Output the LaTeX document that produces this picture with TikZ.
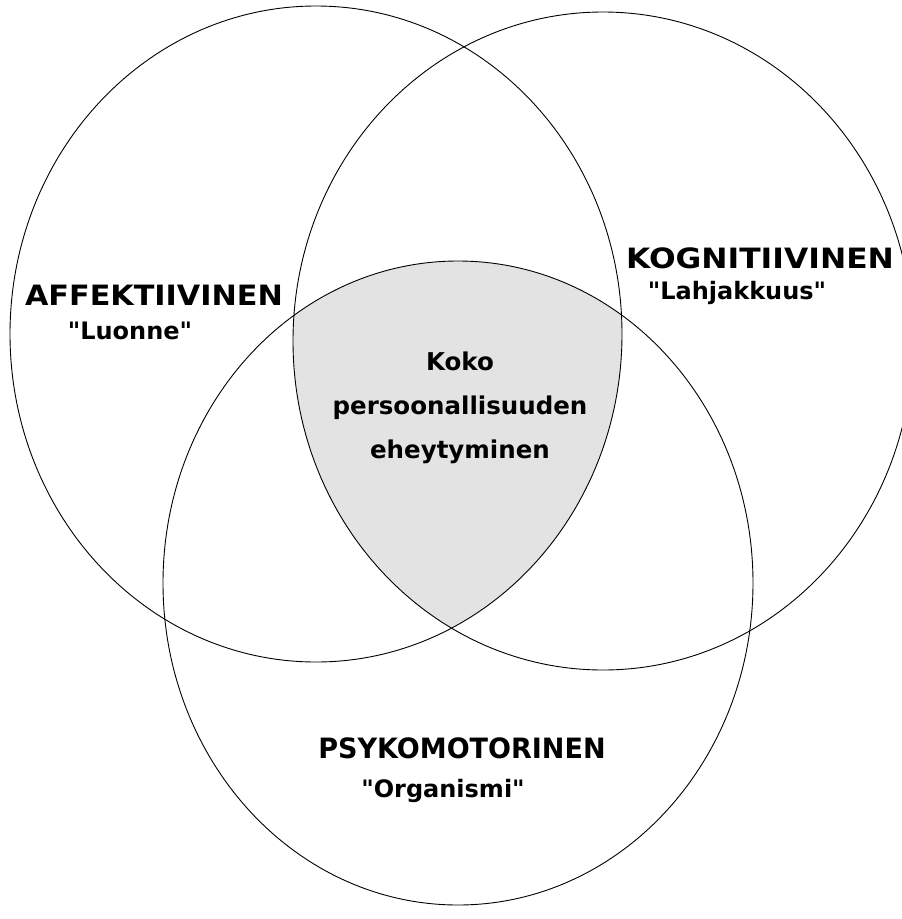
\documentclass[tikz,border=0pt]{standalone}
\usepackage{fontspec}
\setmainfont{DejaVu Sans}[Ligatures=TeXOff]
\begin{document}
\begin{tikzpicture}[x=1pt,y=-1pt,
  ring/.style={draw=black,line width=0.9pt},
  caplabel/.style={font=\fontsize{28}{30}\selectfont\bfseries,inner sep=0pt,transform shape},
  sublabel/.style={font=\fontsize{24}{28}\selectfont\bfseries,inner sep=0pt},
  midlabel/.style={font=\fontsize{24.5}{44}\selectfont\bfseries,inner sep=0pt,align=center}]
\useasboundingbox (0,0) rectangle (902,919);
\fill[white] (0,0) rectangle (902,919);
% shaded common region
\begin{scope}
  \clip (316,334) ellipse [x radius=306pt, y radius=328pt];
  \clip (603,341) ellipse [x radius=310pt, y radius=329pt];
  \fill[gray!22] (458,583) ellipse [x radius=295pt, y radius=322pt];
\end{scope}
% three circles
\draw[ring] (316,334) ellipse [x radius=306pt, y radius=328pt];
\draw[ring] (603,341) ellipse [x radius=310pt, y radius=329pt];
\draw[ring] (458,583) ellipse [x radius=295pt, y radius=322pt];
% labels
\node[caplabel,xscale=1.08] (aff) at (154,295) {AFFEKTIIVINEN};
\node[sublabel] (luo) at (130,331) {"Luonne"};
\node[caplabel,xscale=1.12] (kog) at (760,258) {KOGNITIIVINEN};
\node[sublabel] (lah) at (737,293) {"Lahjakkuus"};
\node[midlabel] (mid) at (460,408) {Koko\\persoonallisuuden\\eheytyminen};
\node[caplabel,xscale=0.965] (psy) at (462,748) {PSYKOMOTORINEN};
\node[sublabel] (org) at (443,791) {"Organismi"};
\end{tikzpicture}
\end{document}
